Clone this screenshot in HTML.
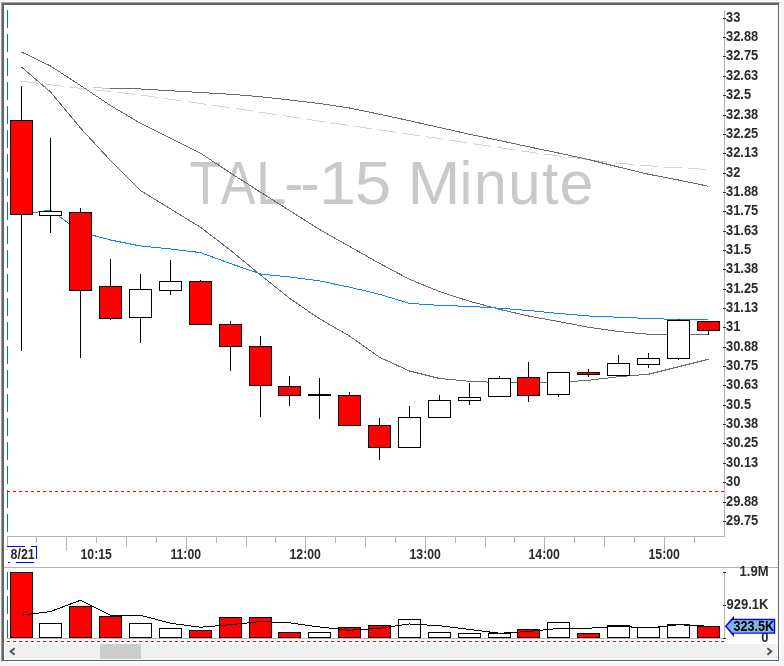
<!DOCTYPE html>
<html><head><meta charset="utf-8"><title>TAL--15 Minute</title>
<style>
html,body{margin:0;padding:0;background:#f2f5fa;}
body{width:784px;height:666px;overflow:hidden;}
svg{display:block;}
text{font-family:"Liberation Sans",sans-serif;}
.ax{font-size:14px;font-weight:bold;fill:#2b2b2b;}
.c{shape-rendering:crispEdges;}
</style></head><body>
<svg width="784" height="666" viewBox="0 0 784 666">
<g class="c">
<rect x="0" y="0" width="784" height="666" fill="#f2f5fa"/>
<rect x="1" y="1" width="780" height="662" fill="#fcfdff"/>
<rect x="1" y="2" width="779" height="1" fill="#a0a0a0"/>
<rect x="1" y="2" width="1" height="660" fill="#a0a0a0"/>
<rect x="2" y="3" width="777" height="658" fill="#646464"/>
<rect x="4" y="5" width="774" height="655" fill="#ffffff"/>
<rect x="5" y="644" width="772" height="15" fill="#f0f0f0"/>
<rect x="100" y="644" width="41" height="15" fill="#cdcdcd"/>
</g>
<path d="M14.6 648.2 L10.6 651.5 L14.6 654.8" fill="none" stroke="#505050" stroke-width="1.9"/>
<path d="M767.4 648.2 L771.4 651.5 L767.4 654.8" fill="none" stroke="#505050" stroke-width="1.9"/>
<text y="204.0" font-size="61.0" fill="#c9c9c9" xml:space="preserve"><tspan x="189.51" textLength="31.92" lengthAdjust="spacingAndGlyphs">T</tspan><tspan x="220.68" textLength="34.85" lengthAdjust="spacingAndGlyphs">A</tspan><tspan x="256.04" textLength="30.40" lengthAdjust="spacingAndGlyphs">L</tspan><tspan x="284.24" textLength="19.29" lengthAdjust="spacingAndGlyphs">-</tspan><tspan x="300.34" textLength="19.29" lengthAdjust="spacingAndGlyphs">-</tspan><tspan x="318.86" textLength="37.34" lengthAdjust="spacingAndGlyphs">1</tspan><tspan x="354.76" textLength="36.61" lengthAdjust="spacingAndGlyphs">5</tspan><tspan x="395"> </tspan><tspan x="407.41" textLength="52.85" lengthAdjust="spacingAndGlyphs">M</tspan><tspan x="459.67" textLength="12.44" lengthAdjust="spacingAndGlyphs">i</tspan><tspan x="473.83" textLength="33.10" lengthAdjust="spacingAndGlyphs">n</tspan><tspan x="508.33" textLength="32.24" lengthAdjust="spacingAndGlyphs">u</tspan><tspan x="542.34" textLength="16.07" lengthAdjust="spacingAndGlyphs">t</tspan><tspan x="559.46" textLength="33.89" lengthAdjust="spacingAndGlyphs">e</tspan></text>
<g class="c" stroke="#008080" stroke-width="1">
<line x1="7.5" y1="10" x2="7.5" y2="536" stroke-dasharray="18 6"/>
<line x1="7.5" y1="572" x2="7.5" y2="638" stroke-dasharray="18 6"/>
</g>
<g class="c" stroke="#b4b4b4" stroke-width="1">
<line x1="724.5" y1="10" x2="724.5" y2="537"/>
<line x1="7" y1="536.5" x2="725" y2="536.5"/>
<line x1="4" y1="567.5" x2="778" y2="567.5"/>
<line x1="724.5" y1="572" x2="724.5" y2="639"/>
<line x1="7" y1="638.5" x2="725" y2="638.5"/>
<line x1="7.5" y1="536" x2="7.5" y2="547"/>
<line x1="36.5" y1="536" x2="36.5" y2="543"/>
<line x1="66.5" y1="536" x2="66.5" y2="551"/>
<line x1="96.5" y1="536" x2="96.5" y2="543"/>
<line x1="126.5" y1="536" x2="126.5" y2="547"/>
<line x1="156.5" y1="536" x2="156.5" y2="543"/>
<line x1="186.5" y1="536" x2="186.5" y2="551"/>
<line x1="216.5" y1="536" x2="216.5" y2="543"/>
<line x1="246.5" y1="536" x2="246.5" y2="547"/>
<line x1="275.5" y1="536" x2="275.5" y2="543"/>
<line x1="305.5" y1="536" x2="305.5" y2="551"/>
<line x1="335.5" y1="536" x2="335.5" y2="543"/>
<line x1="365.5" y1="536" x2="365.5" y2="547"/>
<line x1="395.5" y1="536" x2="395.5" y2="543"/>
<line x1="425.5" y1="536" x2="425.5" y2="551"/>
<line x1="455.5" y1="536" x2="455.5" y2="543"/>
<line x1="485.5" y1="536" x2="485.5" y2="547"/>
<line x1="514.5" y1="536" x2="514.5" y2="543"/>
<line x1="544.5" y1="536" x2="544.5" y2="551"/>
<line x1="574.5" y1="536" x2="574.5" y2="543"/>
<line x1="604.5" y1="536" x2="604.5" y2="547"/>
<line x1="634.5" y1="536" x2="634.5" y2="543"/>
<line x1="664.5" y1="536" x2="664.5" y2="551"/>
<line x1="694.5" y1="536" x2="694.5" y2="543"/>
</g>
<g class="c" stroke="#303030" stroke-width="1">
<line x1="723" y1="18.5" x2="726" y2="18.5"/>
<line x1="723" y1="37.5" x2="726" y2="37.5"/>
<line x1="723" y1="56.5" x2="726" y2="56.5"/>
<line x1="723" y1="76.5" x2="726" y2="76.5"/>
<line x1="723" y1="95.5" x2="726" y2="95.5"/>
<line x1="723" y1="115.5" x2="726" y2="115.5"/>
<line x1="723" y1="134.5" x2="726" y2="134.5"/>
<line x1="723" y1="153.5" x2="726" y2="153.5"/>
<line x1="723" y1="173.5" x2="726" y2="173.5"/>
<line x1="723" y1="192.5" x2="726" y2="192.5"/>
<line x1="723" y1="211.5" x2="726" y2="211.5"/>
<line x1="723" y1="231.5" x2="726" y2="231.5"/>
<line x1="723" y1="250.5" x2="726" y2="250.5"/>
<line x1="723" y1="269.5" x2="726" y2="269.5"/>
<line x1="723" y1="289.5" x2="726" y2="289.5"/>
<line x1="723" y1="308.5" x2="726" y2="308.5"/>
<line x1="723" y1="327.5" x2="726" y2="327.5"/>
<line x1="723" y1="347.5" x2="726" y2="347.5"/>
<line x1="723" y1="366.5" x2="726" y2="366.5"/>
<line x1="723" y1="385.5" x2="726" y2="385.5"/>
<line x1="723" y1="405.5" x2="726" y2="405.5"/>
<line x1="723" y1="424.5" x2="726" y2="424.5"/>
<line x1="723" y1="443.5" x2="726" y2="443.5"/>
<line x1="723" y1="463.5" x2="726" y2="463.5"/>
<line x1="723" y1="482.5" x2="726" y2="482.5"/>
<line x1="723" y1="502.5" x2="726" y2="502.5"/>
<line x1="723" y1="521.5" x2="726" y2="521.5"/>
<line x1="723" y1="572.5" x2="726" y2="572.5"/>
<line x1="723" y1="605.5" x2="726" y2="605.5"/>
<line x1="723" y1="638.5" x2="726" y2="638.5"/>
</g>
<g class="ax">
<text transform="translate(726,22) scale(0.92,1)">33</text>
<text transform="translate(726,41) scale(0.92,1)">32.88</text>
<text transform="translate(726,60) scale(0.92,1)">32.75</text>
<text transform="translate(726,80) scale(0.92,1)">32.63</text>
<text transform="translate(726,99) scale(0.92,1)">32.5</text>
<text transform="translate(726,119) scale(0.92,1)">32.38</text>
<text transform="translate(726,138) scale(0.92,1)">32.25</text>
<text transform="translate(726,157) scale(0.92,1)">32.13</text>
<text transform="translate(726,177) scale(0.92,1)">32</text>
<text transform="translate(726,196) scale(0.92,1)">31.88</text>
<text transform="translate(726,215) scale(0.92,1)">31.75</text>
<text transform="translate(726,235) scale(0.92,1)">31.63</text>
<text transform="translate(726,254) scale(0.92,1)">31.5</text>
<text transform="translate(726,273) scale(0.92,1)">31.38</text>
<text transform="translate(726,293) scale(0.92,1)">31.25</text>
<text transform="translate(726,312) scale(0.92,1)">31.13</text>
<text transform="translate(726,331) scale(0.92,1)">31</text>
<text transform="translate(726,351) scale(0.92,1)">30.88</text>
<text transform="translate(726,370) scale(0.92,1)">30.75</text>
<text transform="translate(726,389) scale(0.92,1)">30.63</text>
<text transform="translate(726,409) scale(0.92,1)">30.5</text>
<text transform="translate(726,428) scale(0.92,1)">30.38</text>
<text transform="translate(726,447) scale(0.92,1)">30.25</text>
<text transform="translate(726,467) scale(0.92,1)">30.13</text>
<text transform="translate(726,486) scale(0.92,1)">30</text>
<text transform="translate(726,506) scale(0.92,1)">29.88</text>
<text transform="translate(726,525) scale(0.92,1)">29.75</text>
<text transform="translate(768.5,576) scale(0.93,1)" text-anchor="end">1.9M</text>
<text transform="translate(768.5,609) scale(0.93,1)" text-anchor="end">929.1K</text>
<text transform="translate(768.5,642) scale(0.93,1)" text-anchor="end">0</text>
<text transform="translate(96.2,559) scale(0.875,1)" text-anchor="middle">10:15</text>
<text transform="translate(185.7,559) scale(0.875,1)" text-anchor="middle">11:00</text>
<text transform="translate(305.2,559) scale(0.875,1)" text-anchor="middle">12:00</text>
<text transform="translate(425.2,559) scale(0.875,1)" text-anchor="middle">13:00</text>
<text transform="translate(544.2,559) scale(0.875,1)" text-anchor="middle">14:00</text>
<text transform="translate(664.2,559) scale(0.875,1)" text-anchor="middle">15:00</text>
<text transform="translate(22.6,559) scale(0.885,1)" text-anchor="middle">8/21</text>
</g>
<g class="c" stroke="#0000ff" stroke-width="1" fill="none">
<path d="M7 546.5 H25 M31 546.5 H37 M36.5 546 V559 M34 562.5 H16 M10 562.5 H8"/>
</g>
<polyline points="21.50,81.25 80.50,88.30 140.50,95.00 190.50,102.00 240.50,109.25 290.50,116.75 336.50,123.60 434.50,138.00 532.50,152.50 575.50,158.00 618.50,163.25 663.50,167.00 708.50,169.50" fill="none" stroke="#d4d4d4" stroke-width="1" stroke-dasharray="18 6" shape-rendering="crispEdges"/>
<line x1="93" y1="87.6" x2="110.5" y2="88.4" stroke="#c8c8c8" stroke-width="1" shape-rendering="crispEdges"/>
<polyline points="110.50,88.40 140.50,89.00 170.50,90.75 200.50,92.50 230.50,94.25 260.50,96.75 289.50,100.00 319.50,103.50 349.50,108.00 379.50,114.25 409.50,120.75 439.50,127.50 469.50,134.25 499.50,140.50 528.50,146.75 558.50,153.00 588.50,159.50 618.50,167.00 648.50,174.25 678.50,180.00 708.50,186.25" fill="none" stroke="#6a6a6a" stroke-width="1" shape-rendering="crispEdges"/>
<polyline points="21.50,52.00 50.50,66.00 80.50,85.50 110.50,105.50 140.50,123.40 170.50,138.30 200.50,153.20 230.50,173.00 260.50,192.20 289.50,210.50 319.50,229.50 349.50,246.40 379.50,263.40 409.50,279.30 439.50,291.60 469.50,301.25 499.50,309.30 528.50,316.00 558.50,321.50 588.50,327.25 618.50,331.50 648.50,334.25 678.50,334.25 708.50,334.25" fill="none" stroke="#6a6a6a" stroke-width="1" shape-rendering="crispEdges"/>
<polyline points="21.50,67.00 50.50,92.00 80.50,128.00 110.50,160.50 140.50,190.50 170.50,208.90 200.50,227.30 230.50,250.25 260.50,275.00 289.50,298.25 319.50,318.75 349.50,336.00 379.50,357.25 409.50,371.00 439.50,378.50 469.50,381.30 499.50,382.50 528.50,382.50 558.50,382.30 588.50,380.30 618.50,376.75 648.50,374.25 678.50,366.75 708.50,359.25" fill="none" stroke="#6a6a6a" stroke-width="1" shape-rendering="crispEdges"/>
<polyline points="21.50,214.50 50.50,210.00 80.50,232.00 110.50,240.00 140.50,246.00 170.50,249.00 200.50,252.60 230.50,263.60 260.50,274.00 289.50,277.00 319.50,280.90 349.50,287.10 379.50,294.30 409.50,303.40 439.50,305.40 469.50,306.40 499.50,308.20 528.50,310.50 558.50,313.50 588.50,316.00 618.50,317.25 648.50,318.50 678.50,319.50 708.50,319.75" fill="none" stroke="#0a84ff" stroke-width="1" shape-rendering="crispEdges"/>
<g class="c" stroke="#ff0000" stroke-width="1">
<line x1="7" y1="491.5" x2="724" y2="491.5" stroke-dasharray="3 3"/>
<line x1="7" y1="641.5" x2="724" y2="641.5" stroke-dasharray="3 3"/>
</g>
<g class="c" stroke="#000" stroke-width="1">
<line x1="21.5" y1="86" x2="21.5" y2="120"/>
<line x1="21.5" y1="215" x2="21.5" y2="351"/>
<rect x="10.5" y="120.5" width="22" height="94" fill="#ff0000"/>
<line x1="50.5" y1="138" x2="50.5" y2="211"/>
<line x1="50.5" y1="216" x2="50.5" y2="233"/>
<rect x="39.5" y="211.5" width="22" height="4" fill="#ffffff"/>
<line x1="80.5" y1="208" x2="80.5" y2="212"/>
<line x1="80.5" y1="291" x2="80.5" y2="358"/>
<rect x="69.5" y="212.5" width="22" height="78" fill="#ff0000"/>
<line x1="110.5" y1="259" x2="110.5" y2="286"/>
<line x1="110.5" y1="319" x2="110.5" y2="320"/>
<rect x="99.5" y="286.5" width="22" height="32" fill="#ff0000"/>
<line x1="140.5" y1="274" x2="140.5" y2="289"/>
<line x1="140.5" y1="318" x2="140.5" y2="343"/>
<rect x="129.5" y="289.5" width="22" height="28" fill="#ffffff"/>
<line x1="170.5" y1="260" x2="170.5" y2="281"/>
<line x1="170.5" y1="291" x2="170.5" y2="295"/>
<rect x="159.5" y="281.5" width="22" height="9" fill="#ffffff"/>
<line x1="200.5" y1="280" x2="200.5" y2="281"/>
<rect x="189.5" y="281.5" width="22" height="43" fill="#ff0000"/>
<line x1="230.5" y1="321" x2="230.5" y2="324"/>
<line x1="230.5" y1="347" x2="230.5" y2="371"/>
<rect x="219.5" y="324.5" width="22" height="22" fill="#ff0000"/>
<line x1="260.5" y1="336" x2="260.5" y2="346"/>
<line x1="260.5" y1="386" x2="260.5" y2="417"/>
<rect x="249.5" y="346.5" width="22" height="39" fill="#ff0000"/>
<line x1="289.5" y1="376" x2="289.5" y2="386"/>
<line x1="289.5" y1="396" x2="289.5" y2="406"/>
<rect x="278.5" y="386.5" width="22" height="9" fill="#ff0000"/>
<line x1="319.5" y1="378" x2="319.5" y2="419"/>
<rect x="308" y="394" width="23" height="2" fill="#000" stroke="none"/>
<line x1="349.5" y1="392" x2="349.5" y2="395"/>
<rect x="338.5" y="395.5" width="22" height="30" fill="#ff0000"/>
<line x1="379.5" y1="418" x2="379.5" y2="425"/>
<line x1="379.5" y1="448" x2="379.5" y2="460"/>
<rect x="368.5" y="425.5" width="22" height="22" fill="#ff0000"/>
<line x1="409.5" y1="406" x2="409.5" y2="417"/>
<rect x="398.5" y="417.5" width="22" height="30" fill="#ffffff"/>
<line x1="439.5" y1="395" x2="439.5" y2="400"/>
<rect x="428.5" y="400.5" width="22" height="17" fill="#ffffff"/>
<line x1="469.5" y1="383" x2="469.5" y2="397"/>
<line x1="469.5" y1="401" x2="469.5" y2="405"/>
<rect x="458.5" y="397.5" width="22" height="3" fill="#ffffff"/>
<line x1="499.5" y1="376" x2="499.5" y2="378"/>
<rect x="488.5" y="378.5" width="22" height="18" fill="#ffffff"/>
<line x1="528.5" y1="362" x2="528.5" y2="377"/>
<line x1="528.5" y1="396" x2="528.5" y2="402"/>
<rect x="517.5" y="377.5" width="22" height="18" fill="#ff0000"/>
<line x1="558.5" y1="395" x2="558.5" y2="397"/>
<rect x="547.5" y="372.5" width="22" height="22" fill="#ffffff"/>
<line x1="588.5" y1="369" x2="588.5" y2="372"/>
<line x1="588.5" y1="375" x2="588.5" y2="377"/>
<rect x="577.5" y="372.5" width="22" height="2" fill="#ff0000"/>
<line x1="618.5" y1="355" x2="618.5" y2="363"/>
<rect x="607.5" y="363.5" width="22" height="12" fill="#ffffff"/>
<line x1="648.5" y1="353" x2="648.5" y2="358"/>
<line x1="648.5" y1="365" x2="648.5" y2="368"/>
<rect x="637.5" y="358.5" width="22" height="6" fill="#ffffff"/>
<line x1="678.5" y1="319" x2="678.5" y2="320"/>
<line x1="678.5" y1="359" x2="678.5" y2="360"/>
<rect x="667.5" y="320.5" width="22" height="38" fill="#ffffff"/>
<line x1="708.5" y1="331" x2="708.5" y2="335"/>
<rect x="697.5" y="321.5" width="22" height="9" fill="#ff0000"/>
<rect x="10.5" y="572.5" width="22" height="65" fill="#ff0000"/>
<rect x="39.5" y="623.5" width="22" height="14" fill="#ffffff"/>
<rect x="69.5" y="606.5" width="22" height="31" fill="#ff0000"/>
<rect x="99.5" y="616.5" width="22" height="21" fill="#ff0000"/>
<rect x="129.5" y="623.5" width="22" height="14" fill="#ffffff"/>
<rect x="159.5" y="628.5" width="22" height="9" fill="#ffffff"/>
<rect x="189.5" y="630.5" width="22" height="7" fill="#ff0000"/>
<rect x="219.5" y="617.5" width="22" height="20" fill="#ff0000"/>
<rect x="249.5" y="617.5" width="22" height="20" fill="#ff0000"/>
<rect x="278.5" y="632.5" width="22" height="5" fill="#ff0000"/>
<rect x="308.5" y="632.5" width="22" height="5" fill="#ffffff"/>
<rect x="338.5" y="627.5" width="22" height="10" fill="#ff0000"/>
<rect x="368.5" y="625.5" width="22" height="12" fill="#ff0000"/>
<rect x="398.5" y="619.5" width="22" height="18" fill="#ffffff"/>
<rect x="428.5" y="632.5" width="22" height="5" fill="#ffffff"/>
<rect x="458.5" y="633.5" width="22" height="4" fill="#ffffff"/>
<rect x="488.5" y="633.5" width="22" height="4" fill="#ffffff"/>
<rect x="517.5" y="629.5" width="22" height="8" fill="#ff0000"/>
<rect x="547.5" y="622.5" width="22" height="15" fill="#ffffff"/>
<rect x="577.5" y="633.5" width="22" height="4" fill="#ff0000"/>
<rect x="607.5" y="625.5" width="22" height="12" fill="#ffffff"/>
<rect x="637.5" y="627.5" width="22" height="10" fill="#ffffff"/>
<rect x="667.5" y="624.5" width="22" height="13" fill="#ffffff"/>
<rect x="697.5" y="626.5" width="22" height="11" fill="#ff0000"/>
</g>
<polyline points="21.50,615.25 50.50,611.50 80.50,600.25 110.50,615.25 140.50,615.25 170.50,623.25 200.50,627.25 230.50,624.75 260.50,621.50 289.50,622.75 319.50,627.00 349.50,630.25 379.50,628.25 409.50,624.00 439.50,625.75 469.50,629.50 499.50,633.25 528.50,631.50 558.50,628.50 588.50,628.25 618.50,626.25 648.50,628.00 678.50,624.75 708.50,626.25" fill="none" stroke="#000" stroke-width="1" shape-rendering="crispEdges"/>
<path d="M724.8 626.3 L734 615.8 L734 618.8 L775.2 618.8 L775.2 633.8 L734 633.8 L734 637 Z" fill="#0000ff"/>
<path d="M726.6 626.3 L732.6 619.9 L773.8 620.2 L773.8 632.4 L732.6 632.7 Z" fill="#80b4e2"/>
<text transform="translate(733.5,631) scale(0.9,1)" font-size="14" font-weight="bold" fill="#000">323.5K</text>
</svg></body></html>
